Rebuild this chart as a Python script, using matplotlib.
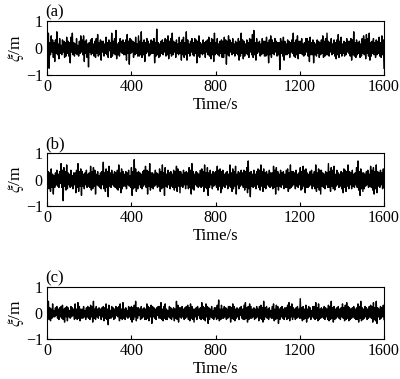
import numpy as np
import matplotlib
matplotlib.use("Agg")
import matplotlib.pyplot as plt

plt.rcParams['font.family'] = ['Liberation Serif', 'DejaVu Serif']
plt.rcParams['mathtext.fontset'] = 'stix'

panel_labels = ["(a)", "(b)", "(c)"]
x_ticks = [0, 400, 800, 1200, 1600]
y_ticks = [-1, 0, 1]

# wave elevation samples in cm
elev_a_cm = [
25,-30,55,-75,20,-25,45,-15,30,-35,
20,-50,30,-20,60,-25,15,-40,35,-20,
10,-25,30,-15,25,-35,20,-30,40,-20,
25,-30,20,-55,40,-15,55,-25,20,-30,
15,-20,35,-25,10,-30,25,-20,45,-15,
30,-25,45,-50,25,-20,30,-35,15,-70,
20,-15,30,-25,35,-20,15,-30,25,-35,
35,-20,50,-30,20,-25,30,-45,25,-15,
25,-30,15,-20,40,-25,20,-35,30,-10,
20,-35,55,-30,25,-20,35,-25,65,-40,
15,-25,20,-30,35,-15,25,-20,30,-25,
20,-25,30,-45,50,-20,25,-60,35,-20,
30,-15,25,-35,20,-25,40,-20,15,-30,
45,-30,25,-25,60,-35,20,-25,30,-50,
20,-20,35,-15,25,-30,15,-25,30,-20,
25,-20,35,-55,20,-30,70,-25,20,-35,
15,-30,25,-20,30,-25,20,-15,35,-30,
30,-25,45,-40,25,-20,35,-30,55,-25,
25,-15,20,-35,30,-20,15,-25,40,-20,
20,-45,30,-25,40,-35,20,-25,60,-45,
30,-20,15,-30,25,-15,35,-25,20,-30,
35,-20,30,-55,25,-30,45,-35,20,-20,
15,-25,30,-20,20,-35,25,-15,30,-25,
40,-30,20,-40,35,-25,30,-50,55,-25,
20,-20,35,-25,15,-30,25,-20,30,-35,
25,-35,40,-20,30,-60,25,-25,45,-30,
30,-15,20,-25,35,-20,15,-30,25,-20,
20,-25,35,-45,25,-30,55,-20,30,-40,
25,-30,15,-20,30,-25,20,-35,35,-15,
30,-25,50,-35,65,-25,20,-45,35,-20,
20,-15,25,-30,15,-25,35,-20,25,-30,
25,-30,40,-25,20,-55,30,-25,45,-35,
30,-20,20,-25,35,-15,25,-30,20,-25,
20,-80,35,-20,25,-30,40,-45,25,-25,
15,-25,30,-20,25,-35,20,-15,30,-20,
55,-30,20,-35,30,-25,45,-40,25,-20,
25,-20,35,-25,15,-30,20,-25,35,-15,
35,-30,25,-50,40,-25,20,-25,30,-55,
20,-25,15,-30,30,-20,25,-35,20,-25,
30,-20,45,-35,25,-30,35,-25,55,-25,
25,-30,20,-15,35,-25,15,-20,30,-30,
20,-40,30,-25,50,-35,25,-20,40,-30,
15,-20,25,-30,20,-25,35,-15,25,-20,
25,-30,35,-45,30,-25,60,-30,20,-35,
30,-25,20,-20,25,-35,15,-30,35,-20,
45,-25,30,-40,50,-20,35,-30,55,-45,
20,-30,25,-20,35,-25,20,-35,30,-25,
25,-20,40,-30,20,-35,45,-25,30,-75]

elev_b_cm = [
20,-25,30,-35,25,-45,40,-30,20,-55,
15,-30,25,-20,35,-25,20,-30,30,-15,
60,-30,35,-80,45,-25,30,-40,55,-35,
25,-20,20,-30,35,-25,15,-35,25,-20,
25,-50,35,-30,60,-45,30,-25,40,-60,
30,-25,20,-35,25,-20,35,-30,20,-25,
25,-30,50,-40,30,-35,45,-25,35,-55,
20,-20,30,-25,15,-30,25,-35,30,-20,
65,-35,25,-45,40,-30,30,-65,50,-25,
25,-30,35,-20,20,-25,30,-30,25,-35,
35,-40,55,-30,25,-50,40,-35,30,-25,
20,-25,30,-35,25,-20,35,-25,15,-30,
45,-60,30,-35,75,-30,40,-45,25,-35,
30,-20,25,-30,20,-35,30,-25,35,-20,
50,-30,35,-55,30,-25,60,-40,25,-30,
25,-35,20,-25,35,-20,25,-30,20,-25,
40,-45,30,-35,55,-30,25,-60,45,-25,
20,-30,35,-20,25,-35,30,-25,20,-30,
35,-40,30,-30,50,-45,40,-25,30,-50,
30,-25,20,-30,35,-20,25,-35,30,-20,
25,-35,45,-30,35,-55,60,-35,30,-40,
20,-20,30,-25,25,-30,20,-25,35,-30,
40,-25,30,-45,55,-30,25,-35,45,-60,
25,-30,35,-20,20,-35,30,-25,25,-20,
30,-30,50,-40,35,-25,40,-50,30,-35,
35,-25,20,-30,25,-20,30,-35,20,-25,
55,-30,25,-45,40,-35,30,-25,50,-55,
20,-20,30,-35,25,-25,35,-20,25,-30,
35,-40,30,-30,45,-50,70,-35,25,-65,
30,-25,20,-30,35,-25,20,-35,30,-20,
40,-30,35,-40,55,-25,30,-45,40,-30,
25,-35,30,-20,20,-25,35,-30,25,-25,
25,-35,50,-30,35,-55,45,-25,30,-40,
20,-25,35,-30,25,-20,30,-35,20,-30,
35,-30,40,-45,25,-35,55,-30,30,-25,
30,-20,25,-35,35,-25,20,-30,25,-20,
45,-40,30,-35,50,-25,35,-50,40,-30,
25,-30,20,-25,30,-20,35,-35,20,-25,
30,-35,55,-45,25,-30,40,-40,35,-55,
35,-25,25,-30,20,-35,30,-20,25,-30,
60,-30,30,-45,45,-25,35,-35,50,-40,
20,-25,35,-20,25,-30,20,-25,30,-35,
25,-50,40,-30,35,-45,30,-25,55,-35,
30,-20,25,-35,35,-25,20,-30,25,-20,
45,-30,70,-40,30,-60,40,-35,25,-45,
25,-35,20,-25,30,-20,35,-30,20,-25,
50,-30,35,-40,45,-55,30,-35,55,-50,
30,-25,25,-30,35,-20,25,-35,40,-30]

elev_c_cm = [
15,-20,45,-25,20,-30,15,-20,35,-15,
10,-15,20,-10,25,-20,15,-25,20,-15,
25,-20,30,-25,15,-35,20,-15,25,-30,
20,-15,10,-20,25,-15,20,-10,15,-25,
35,-20,15,-25,40,-20,25,-30,15,-20,
15,-20,25,-15,10,-25,20,-15,25,-20,
20,-25,30,-15,25,-35,45,-20,15,-25,
25,-15,15,-20,20,-10,15,-25,20,-15,
25,-30,20,-20,35,-25,15,-45,30,-20,
10,-20,25,-15,20,-25,15,-20,25,-10,
20,-15,25,-30,35,-20,15,-25,40,-20,
15,-25,20,-15,10,-20,25,-15,20,-25,
25,-35,20,-25,30,-15,45,-30,20,-20,
20,-10,15,-25,25,-20,15,-15,20,-25,
15,-25,35,-20,25,-30,20,-15,30,-40,
25,-15,20,-20,15,-25,20,-10,25,-20,
25,-20,40,-25,15,-30,25,-20,35,-25,
15,-25,10,-15,25,-20,20,-25,15,-15,
20,-30,15,-20,45,-25,30,-35,20,-15,
20,-20,25,-15,15,-25,20,-20,25,-15,
30,-25,20,-30,35,-20,25,-25,15,-35,
15,-15,20,-25,25,-10,15,-20,20,-25,
40,-20,25,-25,20,-30,35,-15,25,-40,
20,-25,15,-15,25,-20,10,-25,20,-15,
20,-25,30,-20,50,-30,15,-25,30,-20,
15,-20,25,-15,20,-25,15,-20,25,-15,
25,-35,20,-20,35,-25,25,-30,15,-20,
20,-15,15,-25,20,-10,25,-20,15,-25,
30,-25,40,-20,20,-35,25,-25,35,-20,
25,-20,15,-15,20,-25,15,-20,25,-15,
15,-30,25,-20,30,-25,20,-35,45,-25,
20,-15,25,-20,15,-25,20,-15,10,-20,
25,-20,35,-30,15,-25,30,-20,25,-40,
15,-25,20,-15,25,-20,15,-25,20,-15,
20,-25,30,-20,40,-30,25,-15,35,-25,
20,-15,15,-25,20,-20,25,-15,15,-20,
55,-20,20,-30,25,-25,15,-20,30,-35,
15,-20,25,-15,20,-25,10,-15,25,-20,
25,-25,40,-20,20,-30,35,-25,15,-20,
20,-15,15,-20,25,-25,20,-15,15,-25,
30,-30,25,-25,45,-20,20,-35,25,-25,
15,-20,20,-15,25,-20,15,-25,20,-15,
35,-20,20,-30,30,-25,40,-20,25,-30,
20,-25,15,-20,20,-15,25,-20,15,-25,
20,-25,35,-35,25,-20,45,-30,20,-25,
15,-20,25,-15,20,-25,15,-20,25,-15,
30,-20,25,-35,40,-25,20,-30,45,-40,
20,-15,15,-25,25,-20,20,-15,30,-25]

series = [elev_a_cm, elev_b_cm, elev_c_cm]

fig = plt.figure(figsize=(4.0, 3.79), dpi=100)
left, width = 47/400, 337/400
tops = [21, 153, 287]
bottoms = [75, 206, 339]
H = 379
fs = 11.5
for lab, ys_cm, top, bot in zip(panel_labels, series, tops, bottoms):
    ax = fig.add_axes([left, 1 - bot/H, width, (bot - top)/H])
    ys = np.asarray(ys_cm) / 100.0
    t = np.linspace(0, 1600, len(ys))
    ax.plot(t, ys, color='black', lw=1.0)
    ax.set_xlim(0, 1600)
    ax.set_ylim(-1, 1)
    ax.set_xticks(x_ticks)
    ax.set_yticks(y_ticks)
    ax.set_yticklabels(['\u22121', '0', '1'])
    ax.tick_params(direction='in', labelsize=fs, length=3, width=0.8, pad=3)
    for s in ax.spines.values():
        s.set_linewidth(0.8)
    ax.set_xlabel('Time/s', fontsize=fs + 0.5, labelpad=1)
    ax.set_ylabel(r'$\xi$/m', fontsize=fs + 1, labelpad=0)
    ax.text(-0.005, 1.02, lab, transform=ax.transAxes, fontsize=fs + 0.5, ha='left', va='bottom')

fig.savefig('out.png', dpi=100)
